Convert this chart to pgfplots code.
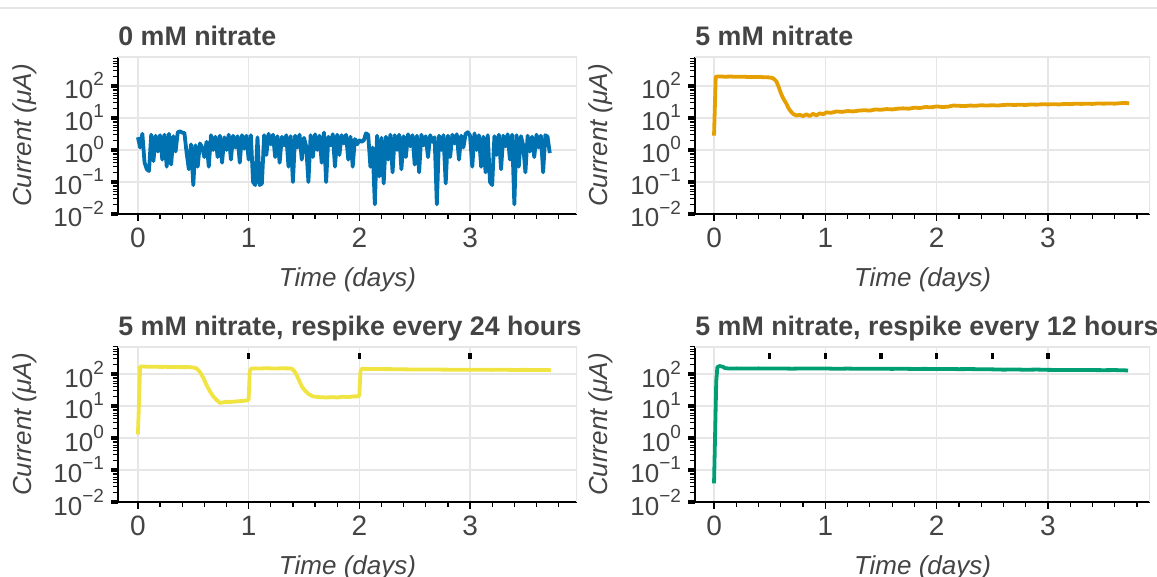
\documentclass[border=0pt]{standalone}
\usepackage{fontspec}
\setmainfont{Liberation Sans}
\usepackage{pgfplots}
\pgfplotsset{compat=1.18}
\definecolor{tg}{HTML}{444444}
\definecolor{gridc}{HTML}{E6E6E6}
\definecolor{cblue}{HTML}{0072B2}
\definecolor{corange}{HTML}{E69F00}
\definecolor{cyellow}{HTML}{F0E442}
\definecolor{cgreen}{HTML}{009E73}
\newcommand{\dec}[1]{10\raisebox{0.5em}{\fontsize{9.5}{10}\selectfont #1}}

\pgfplotstableread{
t y
0.00 2.5
0.02 1.2
0.04 3.2
0.06 0.4
0.08 0.25
0.10 0.22
0.12 3.0
0.14 0.45
0.16 2.8
0.18 0.9
0.20 2.9
0.22 0.5
0.24 3.0
0.26 0.3
0.28 3.2
0.30 0.35
0.32 2.7
0.34 0.9
0.36 3.6
0.38 3.8
0.40 3.5
0.42 3.4
0.44 0.8
0.46 0.25
0.48 1.5
0.50 0.08
0.52 1.4
0.54 0.3
0.56 1.6
0.58 1.2
0.60 0.6
0.62 1.8
0.64 0.3
0.66 2.9
0.68 1.0
0.70 2.6
0.72 0.6
0.74 2.8
0.76 0.4
0.78 2.5
0.80 1.0
0.82 3.0
0.84 0.5
0.86 2.8
0.88 1.2
0.90 2.7
0.92 0.4
0.94 2.9
0.96 1.1
0.98 2.8
1.00 0.5
1.02 2.9
1.04 0.1
1.06 0.08
1.08 2.5
1.10 0.08
1.12 0.09
1.14 2.9
1.16 0.7
1.18 3.2
1.20 1.5
1.22 3.0
1.24 0.6
1.26 2.7
1.28 0.4
1.30 2.6
1.32 1.4
1.34 2.9
1.36 0.3
1.38 2.7
1.40 0.1
1.42 2.8
1.44 1.2
1.46 3.0
1.48 0.5
1.50 2.4
1.52 1.3
1.54 0.1
1.56 2.9
1.58 0.6
1.60 3.1
1.62 1.0
1.64 2.8
1.66 0.4
1.68 3.5
1.70 0.1
1.72 2.6
1.74 1.4
1.76 3.1
1.78 0.3
1.80 3.0
1.82 0.7
1.84 2.9
1.86 1.6
1.88 3.0
1.90 0.5
1.92 2.6
1.94 0.3
1.96 2.2
1.98 1.5
2.00 2.0
2.02 1.8
2.04 2.0
2.06 3.3
2.08 3.0
2.10 0.3
2.12 1.2
2.14 0.02
2.16 2.8
2.18 0.15
2.20 2.4
2.22 0.09
2.24 2.6
2.26 0.5
2.28 3.0
2.30 0.2
2.32 2.9
2.34 1.0
2.36 3.0
2.38 0.25
2.40 2.7
2.42 0.6
2.44 3.1
2.46 1.3
2.48 2.9
2.50 0.35
2.52 2.8
2.54 0.2
2.56 3.0
2.58 1.4
2.60 2.7
2.62 0.6
2.64 2.9
2.66 1.8
2.68 2.5
2.70 0.02
2.72 2.8
2.74 1.0
2.76 2.9
2.78 0.09
2.80 2.8
2.82 0.6
2.84 3.0
2.86 1.6
2.88 3.1
2.90 0.5
2.92 2.8
2.94 1.2
2.96 3.2
2.98 3.6
3.00 2.8
3.02 0.3
3.04 3.3
3.06 1.0
3.08 2.9
3.10 0.3
3.12 2.6
3.14 0.2
3.16 2.9
3.18 0.1
3.20 0.08
3.22 2.7
3.24 0.7
3.26 3.0
3.28 0.25
3.30 2.8
3.32 1.3
3.34 3.1
3.36 0.5
3.38 3.0
3.40 0.02
3.42 2.9
3.44 0.3
3.46 2.7
3.48 1.4
3.50 0.2
3.52 2.8
3.54 0.9
3.56 2.6
3.58 0.6
3.60 3.0
3.62 1.2
3.64 2.8
3.66 0.2
3.68 2.9
3.70 2.6
3.72 0.8
}\dataA

\pgfplotstableread{
t y
0.00 2.8
0.015 195
0.05 198
0.10 195
0.15 197
0.20 193
0.25 195
0.30 192
0.35 190
0.40 191
0.45 188
0.50 185
0.53 175
0.56 140
0.58 95
0.60 60
0.62 42
0.65 28
0.67 20
0.69 16
0.71 13.5
0.74 12
0.77 12.5
0.80 11.5
0.83 13
0.86 11.5
0.89 13.5
0.92 12
0.95 14
0.98 13
1.01 15
1.05 14.5
1.10 16
1.15 15.5
1.20 16.5
1.25 16
1.30 17
1.35 17.5
1.40 17
1.45 18.5
1.50 18
1.55 19
1.60 18.5
1.65 19.5
1.70 20
1.75 19.5
1.80 21
1.85 20.5
1.90 22
1.95 21.5
2.00 23
2.05 22
2.10 22.5
2.15 24.5
2.20 24
2.25 23.5
2.30 24.5
2.35 24
2.40 25
2.45 24.5
2.50 25
2.55 24.5
2.60 25.5
2.65 26
2.70 25.5
2.75 26
2.80 25.5
2.85 26.5
2.90 26
2.95 27
3.00 26.5
3.05 27
3.10 26.5
3.15 27.5
3.20 27
3.25 28
3.30 27.5
3.35 28
3.40 27.5
3.45 28.5
3.50 28
3.55 28.5
3.60 28
3.65 29
3.70 29.5
3.73 28.5
}\dataB

\pgfplotstableread{
t y
0.00 1.3
0.02 170
0.05 172
0.10 168
0.15 170
0.20 167
0.25 168
0.30 165
0.35 166
0.40 164
0.45 165
0.50 160
0.53 150
0.56 115
0.59 77
0.62 45
0.65 29
0.68 20
0.71 15.5
0.74 12.5
0.77 13
0.80 13.5
0.85 13.5
0.90 14
0.95 14.5
0.99 15
1.00 16
1.01 120
1.02 146
1.05 150
1.10 148
1.15 152
1.20 150
1.25 149
1.30 151
1.35 150
1.39 148
1.42 115
1.45 70
1.48 41
1.51 30
1.54 24
1.58 20
1.63 19
1.70 18.5
1.75 19
1.80 18.5
1.85 19.5
1.90 19
1.95 20
1.99 20
2.00 22
2.01 120
2.02 146
2.05 145
2.10 144
2.20 143
2.30 142
2.40 140
2.50 139
2.60 138
2.70 138
2.80 137
2.90 136
3.00 136
3.10 137
3.20 135
3.30 136
3.40 134
3.50 135
3.60 133
3.70 134
3.73 130
}\dataC

\pgfplotstableread{
t y
0.00 0.038
0.02 60
0.03 165
0.05 178
0.08 168
0.10 152
0.15 148
0.20 150
0.30 149
0.40 150
0.50 148
0.60 149
0.70 147
0.80 149
0.90 148
1.00 149
1.10 146
1.20 148
1.30 146
1.40 147
1.50 146
1.60 145
1.70 146
1.80 144
1.90 145
2.00 143
2.10 144
2.20 142
2.30 143
2.40 141
2.50 140
2.60 137
2.70 139
2.80 136
2.90 138
3.00 135
3.10 134
3.20 133
3.30 134
3.40 133
3.50 132
3.60 133
3.70 130
3.72 128
}\dataD

\pgfplotsset{mypanel/.style={
  scale only axis,
  axis x line*=bottom, axis y line*=left,
  axis line style={black, line width=0.8pt, -},
  tick align=outside,
  xtick={0,1,2,3},
  /pgf/number format/assume math mode=true,
  minor xtick={0.2,0.4,0.6,0.8,1.2,1.4,1.6,1.8,2.2,2.4,2.6,2.8,3.2,3.4,3.6,3.8},
  ytick={0.01,0.1,1,10,100},
  yticklabels={\dec{−2},\dec{−1},\dec{0},\dec{1},\dec{2}},
  minor ytick={0.02,0.03,0.04,0.05,0.06,0.07,0.08,0.09,0.2,0.3,0.4,0.5,0.6,0.7,0.8,0.9,2,3,4,5,6,7,8,9,20,30,40,50,60,70,80,90,200,300,400,500,600,700},
  major tick length=3.5pt, minor tick length=2.5pt,
  major x tick style={black, line width=0.8pt},
  minor x tick style={black, line width=0.6pt},
  major y tick style={black, line width=1.6pt},
  minor y tick style={black, line width=0.5pt},
  grid=major, major grid style={color=gridc, line width=0.6pt},
  tick label style={font=\fontsize{13}{15}\selectfont, color=tg},
  xticklabel style={font=\fontsize{14}{16}\selectfont},
  label style={font=\itshape\fontsize{13}{15}\selectfont, color=tg},
  xlabel={Time (days)}, ylabel={Current (μA)},
  xlabel style={at={(axis description cs:0.5,0)}, anchor=center, yshift=-33pt},
  title style={at={(axis description cs:0,1)}, anchor=base west, inner xsep=0pt, yshift=-0.5pt, font=\bfseries\fontsize{13.4}{16}\selectfont, color=tg},
}}

\begin{document}
\begin{tikzpicture}
\useasboundingbox (0,0) rectangle (578.5pt,288.5pt);
\draw[gridc, line width=0.6pt] (0,284.5pt) -- (578.5pt,284.5pt);

\begin{axis}[ymode=log, ymin=0.01, mypanel, at={(59pt,181.5pt)}, anchor=south west,
  width=229.5pt, height=78.5pt, xmin=-0.18, xmax=3.966, ymax=805,
  ylabel style={at={(axis description cs:-0.203,0.5)}, anchor=center},
  title={0 mM nitrate}]
\draw[gridc, line width=0.6pt] (rel axis cs:0,1) -- (rel axis cs:1,1) -- (rel axis cs:1,0);
\addplot[cblue, line width=1.9pt, line join=round, no markers] table {\dataA};
\end{axis}

\begin{axis}[ymode=log, ymin=0.01, mypanel, at={(347.5pt,181.5pt)}, anchor=south west,
  width=227.5pt, height=78.5pt, xmin=-0.171, xmax=3.917, ymax=805,
  ylabel style={at={(axis description cs:-0.207,0.5)}, anchor=center},
  title={5 mM nitrate}]
\draw[gridc, line width=0.6pt] (rel axis cs:0,1) -- (rel axis cs:1,1) -- (rel axis cs:1,0);
\addplot[corange, line width=1.9pt, line join=round, no markers] table {\dataB};
\end{axis}

\begin{axis}[ymode=log, ymin=0.01, mypanel, at={(59pt,37.5pt)}, anchor=south west,
  width=229.5pt, height=77.5pt, xmin=-0.18, xmax=3.966, ymax=700,
  ylabel style={at={(axis description cs:-0.203,0.5)}, anchor=center},
  title={5 mM nitrate, respike every 24 hours}]
\draw[gridc, line width=0.6pt] (rel axis cs:0,1) -- (rel axis cs:1,1) -- (rel axis cs:1,0);
\addplot[cyellow, line width=1.9pt, line join=round, no markers] table {\dataC};
\addplot[only marks, mark=|, mark size=1.6pt, mark options={black, line width=1.6pt}] coordinates {(1,360) (2,360) (3,360)};
\end{axis}

\begin{axis}[ymode=log, ymin=0.01, mypanel, at={(347.5pt,37.5pt)}, anchor=south west,
  width=227.5pt, height=77.5pt, xmin=-0.171, xmax=3.917, ymax=700,
  ylabel style={at={(axis description cs:-0.207,0.5)}, anchor=center},
  title={5 mM nitrate, respike every 12 hours}]
\draw[gridc, line width=0.6pt] (rel axis cs:0,1) -- (rel axis cs:1,1) -- (rel axis cs:1,0);
\addplot[cgreen, line width=1.9pt, line join=round, no markers] table {\dataD};
\addplot[only marks, mark=|, mark size=1.6pt, mark options={black, line width=1.6pt}] coordinates {(0.5,360) (1,360) (1.5,360) (2,360) (2.5,360) (3,360)};
\end{axis}
\end{tikzpicture}
\end{document}
